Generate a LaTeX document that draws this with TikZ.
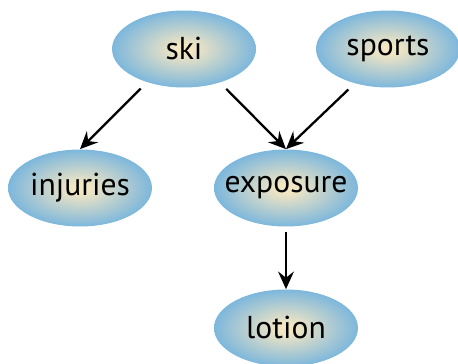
\documentclass[tikz,border=0pt]{standalone}
\usepackage{fontspec}
\setmainfont{PT Sans}
\usetikzlibrary{shapes.geometric,arrows.meta}

\definecolor{bubcream}{HTML}{F3E6C3}
\definecolor{bubblue}{HTML}{7DB7DC}
\pgfdeclareradialshading{bubble}{\pgfpoint{0bp}{0bp}}{%
  color(0bp)=(bubcream); color(3bp)=(bubcream); color(25bp)=(bubblue); color(50bp)=(bubblue)}
% keep the word from widening the ellipse
\newcommand{\tword}[1]{\makebox[0pt]{#1}}

\tikzset{
  topic/.style={ellipse, shading=bubble, inner sep=0pt,
    minimum width=2.88cm, minimum height=1.54cm, font=\fontsize{18}{20}\selectfont},
  link/.style={-{Stealth[length=10pt,width=9pt,inset=3.5pt]}, line width=1.3pt}
}

\begin{document}
\begin{tikzpicture}[x=0.02cm,y=-0.02cm]
\useasboundingbox (0,0) rectangle (458,364);
% the topics
\node[topic] (ski) at (184,49) {\tword{ski}};
\node[topic] (sports) at (388,49) {\tword{sports}};
\node[topic] (injuries) at (80,188) {\tword{injuries}};
\node[topic] (exposure) at (286,188) {\tword{exposure}};
\node[topic] (lotion) at (286,328) {\tword{lotion}};
% the links
\draw[link,shorten <=5pt] (ski.222) -- (injuries.north);
\draw[link,shorten <=5pt] (ski.317) -- (exposure.north);
\draw[link,shorten <=5pt] (sports.226) -- (exposure.north);
\draw[link,shorten <=3pt] (exposure.south) -- (lotion.north);
\end{tikzpicture}
\end{document}
